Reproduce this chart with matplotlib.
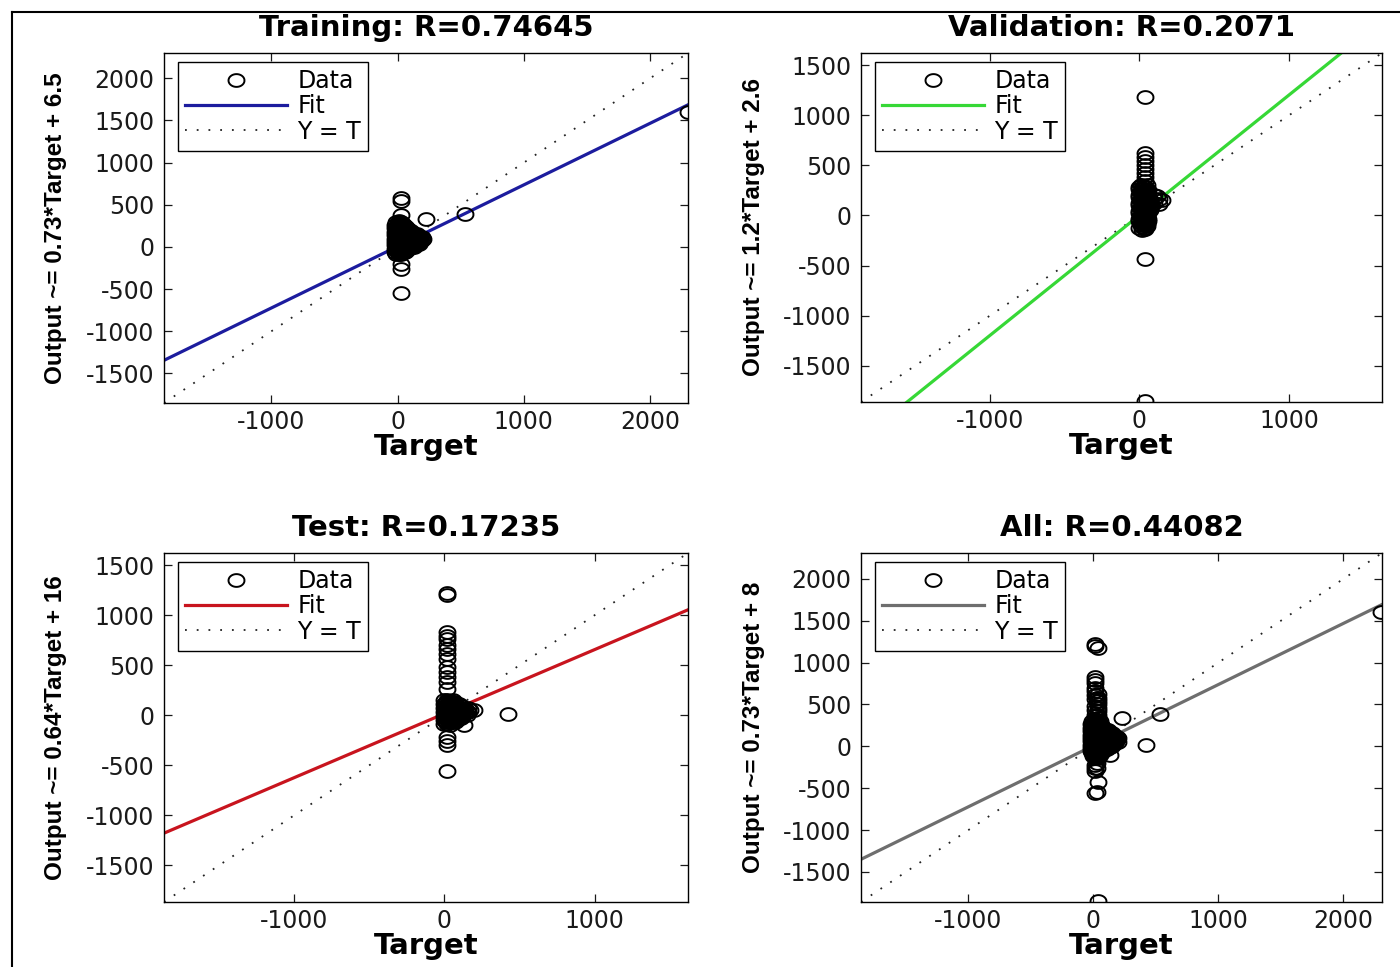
import numpy as np
import matplotlib
matplotlib.use("Agg")
import matplotlib.pyplot as plt
from matplotlib.lines import Line2D

plt.rcParams['axes.unicode_minus'] = False
plt.rcParams['font.family'] = ['DejaVu Sans']

# ---------------- data ----------------
# Training set: outliers + dense cluster near the origin
train_t = [2300, 535, 225, 25, 25, 25, 25, 25, 25,
           -10, 10, 30,
           -20, 0, 20, 40, 60,
           -20, 0, 20, 40, 60, 80,
           -20, 0, 20, 40, 60, 80, 100, 120,
           -20, 0, 20, 40, 60, 80, 100, 120, 140, 160,
           -20, 0, 20, 40, 60, 80, 100, 120, 140, 160, 180, 200,
           -20, 0, 20, 40, 60, 80, 100, 120, 140, 160, 180,
           -20, 0, 20, 40, 60, 80, 100, 120, 140,
           -20, 0, 20, 40, 60, 80, 100,
           -20, 0, 20, 40, 60]
train_y = [1600, 390, 335, 580, 545, 380, -200, -260, -550,
           300, 305, 295,
           262, 258, 265, 255, 250,
           220, 225, 215, 222, 218, 210,
           180, 178, 185, 175, 182, 176, 170, 165,
           140, 145, 138, 142, 135, 140, 138, 132, 128, 125,
           100, 102, 98, 105, 95, 100, 104, 96, 100, 98, 102, 100,
           60, 62, 58, 65, 55, 60, 64, 56, 60, 58, 62,
           20, 22, 18, 25, 15, 20, 24, 16, 20,
           -20, -18, -22, -15, -25, -20, -16,
           -60, -58, -62, -55, -65]
train_core_t = [0, 20, 40,
                -10, 10, 30, 50, 70,
                -10, 10, 30, 50, 70, 90, 110,
                -10, 10, 30, 50, 70, 90, 110, 130, 150,
                -10, 10, 30, 50, 70, 90, 110, 130, 150, 170, 190,
                -10, 10, 30, 50, 70, 90, 110, 130, 150, 170, 190,
                -10, 10, 30, 50, 70, 90, 110, 130, 150, 170,
                -10, 10, 30, 50, 70, 90, 110, 130,
                -10, 10, 30, 50, 70,
                -10, 10, 30]
train_core_y = [280, 282, 278,
                240, 242, 238, 244, 236,
                200, 202, 198, 204, 196, 200, 195,
                160, 162, 158, 164, 156, 160, 163, 157, 155,
                120, 122, 118, 124, 116, 120, 123, 117, 120, 118, 115,
                80, 82, 78, 84, 76, 80, 83, 77, 80, 78, 82,
                40, 42, 38, 44, 36, 40, 43, 37, 40, 38,
                0, 2, -2, 4, -4, 0, 3, -3,
                -40, -38, -42, -36, -44,
                -80, -78, -82]

# Validation set
val_t = [35, 35, 35, 35, 35, 35, 35, 35, 35, 35, 35,
         100, 120, 100, 130, 150, 100, 130,
         10, 30, 50,
         0, 20, 40, 60,
         10, 30, 50,
         0, 20, 40, 60,
         10, 30, 50, 70,
         0, 20, 40, 60, 80,
         10, 30, 50, 70,
         0, 20, 40, 60,
         10, 30, 50,
         0, 20, 40, 60,
         10, 30, 50,
         20, 40]
val_y = [1180, 620, 580, 540, 500, 460, 420, 380, 340, -430, -1850,
         200, 190, 160, 165, 150, 120, 110,
         300, 295, 305,
         260, 262, 255, 258,
         220, 225, 215,
         180, 182, 178, 175,
         140, 138, 145, 135,
         100, 102, 98, 105, 95,
         60, 58, 65, 55,
         20, 22, 18, 25,
         -20, -15, -25,
         -60, -58, -62, -55,
         -100, -95, -105,
         -140, -135]
val_core_t = [0, 20, 40,
              10, 30, 50,
              0, 20, 40, 60,
              10, 30, 50, 70,
              0, 20, 40, 60, 80,
              10, 30, 50, 70,
              0, 20, 40, 60,
              10, 30, 50,
              0, 20, 40, 60,
              10, 30, 50,
              0, 20, 40]
val_core_y = [280, 278, 283,
              240, 242, 237,
              200, 203, 198, 201,
              160, 158, 163, 157,
              120, 122, 118, 124, 116,
              80, 83, 77, 81,
              40, 42, 38, 44,
              0, 3, -3,
              -40, -38, -43, -37,
              -80, -78, -83,
              -120, -118, -122]

# Test set
test_t = [15, 15, 15, 15, 15, 15, 15, 15, 15, 15, 15, 15, 15, 15, 15, 15, 15, 15,
          420, 200, 130,
          0, 20, 40, 60,
          0, 20, 40, 60, 80, 100,
          0, 20, 40, 60, 80, 100, 120, 140, 160,
          0, 20, 40, 60, 80, 100, 120, 140, 160,
          0, 20, 40, 60, 80, 100, 120,
          0, 20, 40, 60, 80,
          0, 20, 40]
test_y = [1200, 1220, 830, 790, 760, 700, 660, 615, 560, 485, 435, 380, 330, 265,
          -220, -260, -300, -555,
          10, 50, -100,
          150, 155, 145, 150,
          110, 112, 108, 115, 105, 110,
          70, 72, 68, 75, 65, 70, 74, 66, 70,
          30, 32, 28, 35, 25, 30, 34, 26, 30,
          -10, -8, -12, -5, -15, -10, -6,
          -50, -48, -52, -45, -55,
          -90, -88, -95]
test_core_t = [10, 30, 50, 70,
               10, 30, 50, 70, 90, 110,
               10, 30, 50, 70, 90, 110, 130, 150, 170,
               10, 30, 50, 70, 90, 110, 130, 150,
               10, 30, 50, 70, 90, 110,
               10, 30, 50, 70]
test_core_y = [130, 132, 128, 134,
               90, 92, 88, 94, 86, 90,
               50, 52, 48, 54, 46, 50, 53, 47, 50,
               10, 12, 8, 14, 6, 10, 13, 7,
               -30, -28, -32, -26, -34, -30,
               -70, -68, -72, -66]

# complete subsets, and All = union of the three subsets
train_T = train_t + train_core_t
train_Y = train_y + train_core_y
val_T = val_t + val_core_t
val_Y = val_y + val_core_y
test_T = test_t + test_core_t
test_Y = test_y + test_core_y
all_T = train_T + val_T + test_T
all_Y = train_Y + val_Y + test_Y

titles = ["Training: R=0.74645", "Validation: R=0.2071", "Test: R=0.17235", "All: R=0.44082"]
slopes = [0.73, 1.2, 0.64, 0.73]
offsets = [6.5, 2.6, 16, 8]
ylabels = ["Output ~= 0.73*Target + 6.5", "Output ~= 1.2*Target + 2.6",
           "Output ~= 0.64*Target + 16", "Output ~= 0.73*Target + 8"]
limits = [(-1850, 2300), (-1860, 1620), (-1865, 1620), (-1860, 2310)]
xticks = [[-1000, 0, 1000, 2000], [-1000, 0, 1000], [-1000, 0, 1000], [-1000, 0, 1000, 2000]]
yticks = [[-1500, -1000, -500, 0, 500, 1000, 1500, 2000],
          [-1500, -1000, -500, 0, 500, 1000, 1500],
          [-1500, -1000, -500, 0, 500, 1000, 1500],
          [-1500, -1000, -500, 0, 500, 1000, 1500, 2000]]
fit_colors = ["#1c1c9e", "#36d836", "#c8141e", "#6e6e6e"]
targets = [train_T, val_T, test_T, all_T]
outputs = [train_Y, val_Y, test_Y, all_Y]

# ---------------- figure ----------------
fig = plt.figure(figsize=(14, 9.67), dpi=100)
W, H = 1400, 967
boxes = [(164, 53, 688, 403), (861, 53, 1382, 402), (164, 553, 688, 902), (861, 553, 1382, 902)]

th = np.linspace(0, 2 * np.pi, 61)
ell = np.column_stack([1.25 * np.cos(th), np.sin(th)])

for i in range(4):
    l, t, r, b = boxes[i]
    ax = fig.add_axes([l / W, 1 - b / H, (r - l) / W, (b - t) / H])
    lo, hi = limits[i]
    ax.set_xlim(lo, hi)
    ax.set_ylim(lo, hi)
    ax.plot(targets[i], outputs[i], linestyle='none', marker=ell, markersize=11.5,
            markerfacecolor='none', markeredgecolor='black', markeredgewidth=1.4,
            zorder=3, label='Data')
    xs = np.array([lo, hi])
    ax.plot(xs, slopes[i] * xs + offsets[i], color=fit_colors[i], lw=2.3, zorder=2, label='Fit')
    ax.plot(xs, xs, color='#222222', lw=1.3, linestyle=(0, (1, 5.5)), zorder=1, label='Y = T')
    ax.set_xticks(xticks[i])
    ax.set_yticks(yticks[i])
    ax.set_xticklabels([str(v) for v in xticks[i]])
    ax.set_yticklabels([str(v) for v in yticks[i]])
    ax.tick_params(direction='in', top=True, right=True, length=6, width=0.9,
                   labelsize=17, colors='#1a1a1a')
    ax.tick_params(axis='x', pad=5)
    ax.tick_params(axis='y', pad=7)
    for s in ax.spines.values():
        s.set_linewidth(1.0)
        s.set_color('black')
    ax.set_title(titles[i], fontsize=21, fontweight='bold', family='DejaVu Sans', pad=12.5)
    ax.set_xlabel("Target", fontsize=21, fontweight='bold', family='DejaVu Sans')
    ax.xaxis.set_label_coords(0.5, -0.085)
    ax.xaxis.label.set_va('top')
    ax.set_ylabel(ylabels[i], fontsize=17.5, fontweight='bold',
                  family=['Liberation Sans', 'DejaVu Sans'])
    ax.yaxis.set_label_coords(-0.185, 0.5)
    leg = ax.legend(loc='upper left', bbox_to_anchor=(0.027, 0.974), borderaxespad=0,
                    fontsize=17, handlelength=4.3, handletextpad=0.45, borderpad=0.3,
                    labelspacing=0.05, numpoints=1, fancybox=False, framealpha=1,
                    edgecolor='black')
    leg.get_frame().set_linewidth(1.0)

# outer border lines (left and top)
fig.add_artist(Line2D([12 / W, 12 / W], [0, 1 - 12 / H], transform=fig.transFigure,
                      color='black', lw=1.5))
fig.add_artist(Line2D([12 / W, 1], [1 - 12 / H, 1 - 12 / H], transform=fig.transFigure,
                      color='black', lw=1.5))

fig.savefig("out.png", dpi=100, facecolor='white')
